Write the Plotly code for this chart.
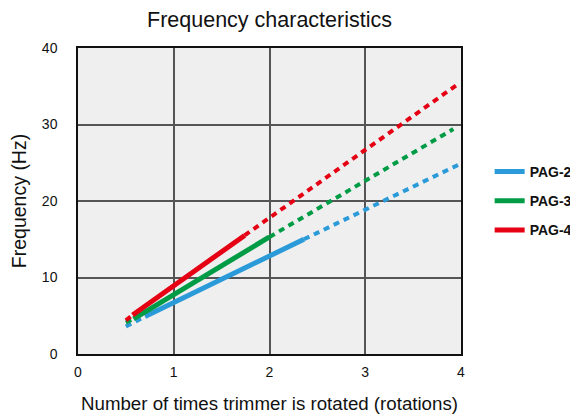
import plotly.graph_objects as go

series_names = ["PAG-2", "PAG-3", "PAG-4"]
series_colors = ["#2a9bd8", "#009b45", "#e50013"]

# solid (measured) segments
solid_x = [[0.70, 2.36], [0.58, 2.00], [0.57, 1.74]]
solid_y = [[4.9, 15.0], [4.6, 15.3], [5.1, 15.5]]
# dotted (extrapolated) segments, low end
low_x = [[0.50, 0.70], [0.50, 0.58], [0.50, 0.57]]
low_y = [[3.6, 4.9], [4.1, 4.6], [4.4, 5.1]]
# dotted (extrapolated) segments, high end
high_x = [[2.36, 4.00], [2.00, 3.92], [1.74, 3.96]]
high_y = [[15.0, 24.9], [15.3, 29.4], [15.5, 35.2]]

x_ticks = [0, 1, 2, 3, 4]
y_ticks = [0, 10, 20, 30, 40]

fig = go.Figure()
for i, name in enumerate(series_names):
    c = series_colors[i]
    fig.add_trace(go.Scatter(x=low_x[i], y=low_y[i], mode="lines",
                             line=dict(color=c, width=4, dash="6px,5px"),
                             showlegend=False, hoverinfo="skip"))
    fig.add_trace(go.Scatter(x=high_x[i], y=high_y[i], mode="lines",
                             line=dict(color=c, width=4, dash="6px,5px"),
                             showlegend=False, hoverinfo="skip"))
    fig.add_trace(go.Scatter(x=solid_x[i], y=solid_y[i], mode="lines",
                             line=dict(color=c, width=5), name=name,
                             legendgroup=name))

font_family = "Liberation Sans, Arial, Helvetica, sans-serif"
# page body has an 8px margin, so the figure is sized 8px smaller
fig.update_layout(
    width=570, height=409,
    margin=dict(l=70, r=117, t=40, b=63, autoexpand=False),
    paper_bgcolor="white",
    plot_bgcolor="#efefef",
    font=dict(family=font_family, color="#111"),
    title=dict(text="Frequency characteristics", x=0.5, xref="paper",
               y=0.971, yref="container", yanchor="middle",
               font=dict(size=21.5, family=font_family, color="#111")),
    legend=dict(x=0.845, xref="container", y=0.50, xanchor="left", yanchor="middle",
                bgcolor="rgba(0,0,0,0)", tracegroupgap=8, borderwidth=0,
                font=dict(size=14, family=font_family, color="#111", weight="bold")),
    showlegend=True,
)
fig.update_xaxes(range=[0, 4], tickvals=x_ticks, ticktext=[str(v) for v in x_ticks],
                 showgrid=True, gridcolor="#555", gridwidth=1.5,
                 showline=True, linecolor="#111", linewidth=1.5, mirror=True,
                 zeroline=False, ticks="", ticklabelstandoff=4, automargin=False,
                 tickfont=dict(size=14),
                 title=dict(text="Number of times trimmer is rotated (rotations)",
                            font=dict(size=18.7), standoff=18))
fig.update_yaxes(range=[0, 40], tickvals=y_ticks, ticktext=[str(v) for v in y_ticks],
                 showgrid=True, gridcolor="#555", gridwidth=1.5,
                 showline=True, linecolor="#111", linewidth=1.5, mirror=True,
                 zeroline=False, ticks="", ticklabelstandoff=16, automargin=False,
                 tickfont=dict(size=14),
                 title=dict(text="Frequency (Hz)", font=dict(size=19.5), standoff=18))

fig.write_html("out.html")
